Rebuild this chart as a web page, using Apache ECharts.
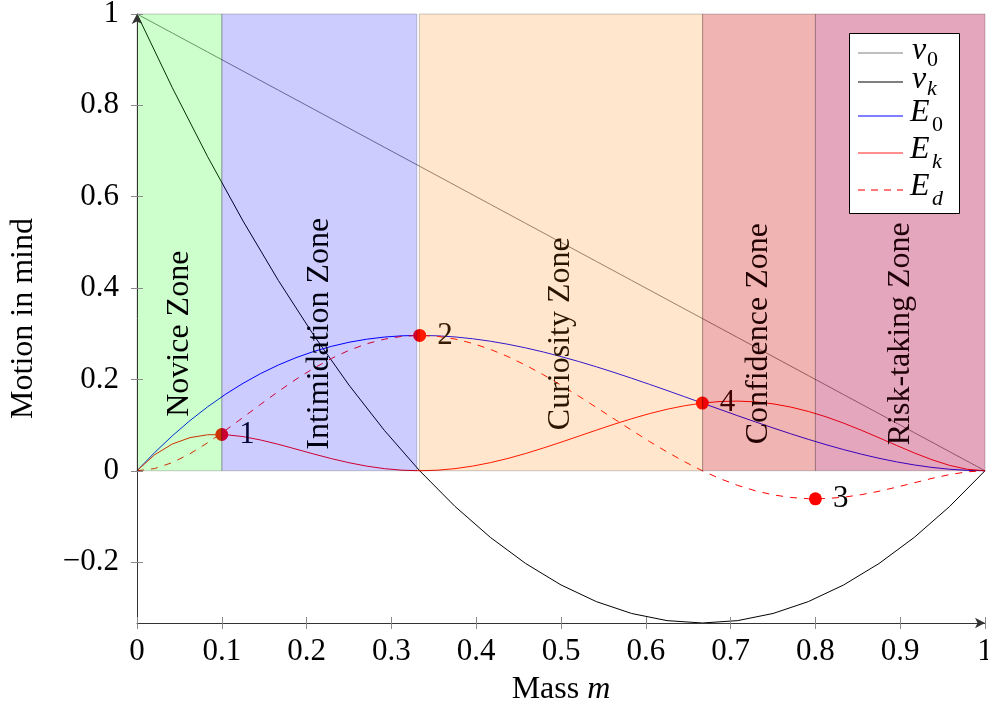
<!DOCTYPE html>
<html>
<head>
<meta charset="utf-8">
<script src="https://cdn.jsdelivr.net/npm/echarts@6/dist/echarts.min.js"></script>
<style>
  html, body { margin: 0; padding: 0; background: #ffffff; }
  #chart { width: 988px; height: 710px; }
</style>
</head>
<body>
<div id="chart"></div>
<script>
// Velocity curves: 25 samples over [0, 1]
const mass = [0, 0.04167, 0.08333, 0.125, 0.16667, 0.20833, 0.25, 0.29167, 0.33333,
  0.375, 0.41667, 0.45833, 0.5, 0.54167, 0.58333, 0.625, 0.66667, 0.70833, 0.75,
  0.79167, 0.83333, 0.875, 0.91667, 0.95833, 1];
const v0 = [1, 0.95833, 0.91667, 0.875, 0.83333, 0.79167, 0.75, 0.70833, 0.66667,
  0.625, 0.58333, 0.54167, 0.5, 0.45833, 0.41667, 0.375, 0.33333, 0.29167, 0.25,
  0.20833, 0.16667, 0.125, 0.08333, 0.04167, 0];
const vk = [1, 0.8385, 0.6875, 0.5469, 0.4167, 0.2969, 0.1875, 0.0885, 0,
  -0.0781, -0.1458, -0.2031, -0.25, -0.2865, -0.3125, -0.3281, -0.3333, -0.3281, -0.3125,
  -0.2865, -0.25, -0.2031, -0.1458, -0.0781, 0];

// Energy curves: 49 samples over [0, 1]
const massFine = [0, 0.02083, 0.04167, 0.0625, 0.08333, 0.10417, 0.125, 0.14583, 0.16667,
  0.1875, 0.20833, 0.22917, 0.25, 0.27083, 0.29167, 0.3125, 0.33333, 0.35417, 0.375,
  0.39583, 0.41667, 0.4375, 0.45833, 0.47917, 0.5, 0.52083, 0.54167, 0.5625, 0.58333,
  0.60417, 0.625, 0.64583, 0.66667, 0.6875, 0.70833, 0.72917, 0.75, 0.77083, 0.79167,
  0.8125, 0.83333, 0.85417, 0.875, 0.89583, 0.91667, 0.9375, 0.95833, 0.97917, 1];
const e0 = [0, 0.0399, 0.0765, 0.1099, 0.1400, 0.1672, 0.1914, 0.2128, 0.2315,
  0.2476, 0.2611, 0.2723, 0.2813, 0.2880, 0.2927, 0.2954, 0.2963, 0.2954, 0.2930,
  0.2890, 0.2836, 0.2769, 0.2690, 0.2600, 0.25, 0.2392, 0.2276, 0.2153, 0.2025,
  0.1893, 0.1758, 0.1620, 0.1481, 0.1343, 0.1205, 0.1070, 0.0938, 0.0810, 0.0687,
  0.0571, 0.0463, 0.0363, 0.0273, 0.0194, 0.0127, 0.0073, 0.0033, 0.0009, 0];
const ek = [0, 0.0351, 0.0586, 0.0725, 0.0788, 0.0790, 0.0748, 0.0673, 0.0579,
  0.0474, 0.0367, 0.0266, 0.0176, 0.0101, 0.0046, 0.0012, 0, 0.0012, 0.0046,
  0.0102, 0.0177, 0.0270, 0.0378, 0.0498, 0.0625, 0.0757, 0.0889, 0.1018, 0.1139,
  0.1250, 0.1346, 0.1424, 0.1481, 0.1516, 0.1525, 0.1508, 0.1465, 0.1395, 0.1299,
  0.1181, 0.1042, 0.0887, 0.0722, 0.0554, 0.0390, 0.0241, 0.0117, 0.0032, 0];
const ed = [0, 0.0048, 0.0179, 0.0373, 0.0613, 0.0882, 0.1166, 0.1455, 0.1736,
  0.2002, 0.2244, 0.2457, 0.2637, 0.2779, 0.2881, 0.2943, 0.2963, 0.2943, 0.2884,
  0.2788, 0.2658, 0.2498, 0.2311, 0.2102, 0.1875, 0.1635, 0.1387, 0.1136, 0.0886,
  0.0643, 0.0412, 0.0196, 0, -0.0173, -0.0320, -0.0439, -0.0527, -0.0585, -0.0612,
  -0.0609, -0.0579, -0.0524, -0.0449, -0.0359, -0.0263, -0.0167, -0.0084, -0.0023, 0];

// Numbered key points
const pointMass = [0.1, 0.33333, 0.8, 0.66667];
const pointValue = [0.0794, 0.2963, -0.0614, 0.1481];
const pointLabel = ['1', '2', '3', '4'];

// Zones
const zoneNames = ['Novice Zone', 'Intimidation Zone', 'Curiosity Zone', 'Confidence Zone', 'Risk-taking Zone'];
const zoneStart = [0, 0.1, 0.333, 0.667, 0.8];
const zoneEnd = [0.1, 0.33, 0.667, 0.8, 1];
const zoneTop = [1, 1, 1, 1, 1];
const zoneBottom = [0, 0, 0, 0, 0];
const zoneLabelMass = [0.05, 0.215, 0.5, 0.7335, 0.9];
const zoneLabelValue = [0.3, 0.3, 0.3, 0.3, 0.3];

// Tick labels
const xTicks = [0, 0.1, 0.2, 0.3, 0.4, 0.5, 0.6, 0.7, 0.8, 0.9, 1];
const yTicks = [-0.2, 0, 0.2, 0.4, 0.6, 0.8, 1];

const FONT = 'Liberation Serif';
const TICK_FS = 31;
const TEXT_FS = 32;

// Translucent zone fills laid over the curves
const zoneFill = [
  'rgba(0,255,0,0.2)',
  'rgba(0,0,255,0.2)',
  'rgba(255,128,0,0.2)',
  'rgba(205,5,0,0.3)',
  'rgba(176,0,66,0.35)'
];
// Caption ink for each zone
const zoneInk = ['#000000', '#000010', '#2a1600', '#200000', '#200008'];

const pairs = (xs, ys) => xs.map((m, i) => [m, ys[i]]);
const fmtY = (v) => (v < 0 ? '\u2212' + String(-v) : String(v));

const chart = echarts.init(document.getElementById('chart'), null, { renderer: 'canvas' });

const tickColor = '#8a8a8a';
const axisColor = '#333333';

// Boxed key in the top-right corner
const legendRows = [
  { key: 'v0', main: 'v', sub: '0', y: 53, color: '#808080', dashed: false },
  { key: 'vk', main: 'v', sub: 'k', y: 82, color: '#000000', dashed: false },
  { key: 'e0', main: 'E', sub: '0', y: 116, color: '#0000ff', dashed: false },
  { key: 'ek', main: 'E', sub: 'k', y: 153, color: '#ff2020', dashed: false },
  { key: 'ed', main: 'E', sub: 'd', y: 190, color: '#ff2020', dashed: true }
];
const LZ = 200;
const legendElements = [{
  id: 'key-box', type: 'rect', z: LZ, zlevel: 1,
  shape: { x: 849.5, y: 33.5, width: 110, height: 180 },
  style: { fill: '#ffffff', stroke: '#000000', lineWidth: 1 }
}];
legendRows.forEach((r) => {
  const isV = r.main === 'v';
  const segs = r.dashed ? [[858, 865], [871, 878], [884, 891], [897, 903]] : [[858, 903]];
  segs.forEach((s, i) => {
    legendElements.push({
      id: 'key-line-' + r.key + '-' + i, type: 'line', z: LZ + 2, zlevel: 1,
      shape: { x1: s[0], y1: r.y, x2: s[1], y2: r.y },
      style: { stroke: r.color, lineWidth: 1.2 }
    });
  });
  legendElements.push({
    id: 'key-main-' + r.key, type: 'text', z: LZ + 1, zlevel: 1,
    style: {
      x: isV ? 912 : 910, y: r.y - (isV ? 2 : 3),
      text: r.main,
      font: 'italic ' + TEXT_FS + 'px "' + FONT + '"',
      fill: '#000', align: 'left', verticalAlign: 'middle'
    }
  });
  legendElements.push({
    id: 'key-sub-' + r.key, type: 'text', z: LZ + 1, zlevel: 1,
    style: {
      x: isV ? 927 : 932, y: r.y + (isV ? 7 : 9),
      text: r.sub,
      font: (r.sub === '0' ? '' : 'italic ') + 22 + 'px "' + FONT + '"',
      fill: '#000', align: 'left', verticalAlign: 'middle'
    }
  });
});

const baseX = {
  type: 'value', min: 0, max: 1, position: 'bottom', z: 20,
  splitLine: { show: false }
};
const baseY = {
  type: 'value', min: -0.33333, max: 1, position: 'left', z: 20,
  splitLine: { show: false }
};

const option = {
  animation: false,
  backgroundColor: '#ffffff',
  textStyle: { fontFamily: FONT },
  grid: { left: 137, top: 14, width: 848, height: 609, containLabel: false, outerBoundsMode: 'none' },
  xAxis: [
    Object.assign({}, baseX, {
      axisLine: {
        show: true, onZero: false, symbol: ['none', 'arrow'], symbolSize: [8, 10],
        lineStyle: { color: axisColor, width: 1 }
      },
      axisTick: { show: true, inside: false, length: 6, customValues: xTicks, lineStyle: { color: tickColor } },
      axisLabel: {
        show: true, customValues: xTicks, margin: 13, fontSize: TICK_FS, color: '#000',
        fontFamily: FONT, formatter: (v) => String(v), showMinLabel: true, showMaxLabel: true
      },
      name: '{r|Mass }{i|m}',
      nameLocation: 'middle',
      nameGap: 51,
      nameTextStyle: {
        rich: {
          r: { fontSize: TEXT_FS, fontFamily: FONT, color: '#000' },
          i: { fontSize: TEXT_FS, fontFamily: FONT, fontStyle: 'italic', color: '#000' }
        }
      }
    }),
    Object.assign({}, baseX, {
      axisLine: { show: false, onZero: false },
      axisTick: { show: true, inside: true, length: 6, customValues: xTicks, lineStyle: { color: tickColor } },
      axisLabel: { show: false }
    })
  ],
  yAxis: [
    Object.assign({}, baseY, {
      axisLine: {
        show: true, onZero: false, symbol: ['none', 'arrow'], symbolSize: [8, 10],
        lineStyle: { color: axisColor, width: 1 }
      },
      axisTick: { show: true, inside: false, length: 6, customValues: yTicks, lineStyle: { color: tickColor } },
      axisLabel: {
        show: true, customValues: yTicks, margin: 18, fontSize: TICK_FS, color: '#000',
        fontFamily: FONT, formatter: fmtY, showMinLabel: true, showMaxLabel: true
      },
      name: 'Motion in mind',
      nameLocation: 'middle',
      nameRotate: 90,
      nameGap: 97,
      nameTextStyle: { fontSize: TEXT_FS, fontFamily: FONT, color: '#000' }
    }),
    Object.assign({}, baseY, {
      offset: 0,
      axisLine: { show: false, onZero: false },
      axisTick: { show: true, inside: true, length: 6, customValues: yTicks, lineStyle: { color: tickColor } },
      axisLabel: { show: false }
    })
  ],
  graphic: { elements: legendElements },
  series: [
    { name: 'v0', type: 'line', z: 3, symbol: 'none', data: pairs(mass, v0), lineStyle: { color: '#808080', width: 1 } },
    { name: 'vk', type: 'line', z: 3, symbol: 'none', data: pairs(mass, vk), lineStyle: { color: '#000000', width: 1 } },
    { name: 'E0', type: 'line', z: 3, symbol: 'none', data: pairs(massFine, e0), lineStyle: { color: '#0000ff', width: 1 } },
    { name: 'Ek', type: 'line', z: 3, symbol: 'none', data: pairs(massFine, ek), lineStyle: { color: '#ff0000', width: 1 } },
    { name: 'Ed', type: 'line', z: 3, symbol: 'none', data: pairs(massFine, ed), lineStyle: { color: '#ff0000', width: 1, type: [7, 7] } },
    {
      name: 'points', type: 'scatter', z: 5, symbolSize: 13,
      itemStyle: { color: '#ff0000', opacity: 1 },
      data: pairs(pointMass, pointValue),
      label: {
        show: true, position: 'right', distance: 11, fontSize: TICK_FS, fontFamily: FONT, color: '#000',
        formatter: (p) => pointLabel[p.dataIndex]
      }
    },
    {
      name: 'zones', type: 'custom', z: 10, silent: true,
      data: zoneStart.map((s, i) => [s, zoneEnd[i], zoneTop[i], zoneBottom[i]]),
      encode: { x: [0, 1], y: [2, 3] },
      renderItem: (params, api) => {
        const a = api.coord([api.value(0), api.value(2)]);
        const b = api.coord([api.value(1), api.value(3)]);
        return {
          type: 'rect',
          shape: { x: a[0], y: a[1], width: b[0] - a[0], height: b[1] - a[1] },
          style: { fill: zoneFill[params.dataIndex], stroke: 'rgba(0,0,0,0.2)', lineWidth: 1 }
        };
      }
    },
    {
      name: 'zone labels', type: 'scatter', z: 12, zlevel: 0, silent: true,
      symbolSize: 1, itemStyle: { color: 'rgba(0,0,0,0)', opacity: 1 },
      data: zoneLabelMass.map((m, i) => ({
        value: [m, zoneLabelValue[i]],
        label: { color: zoneInk[i] }
      })),
      label: {
        show: true, position: 'inside', rotate: 90, fontSize: TEXT_FS, fontFamily: FONT,
        formatter: (p) => zoneNames[p.dataIndex]
      }
    }
  ]
};

chart.setOption(option);
</script>
</body>
</html>
